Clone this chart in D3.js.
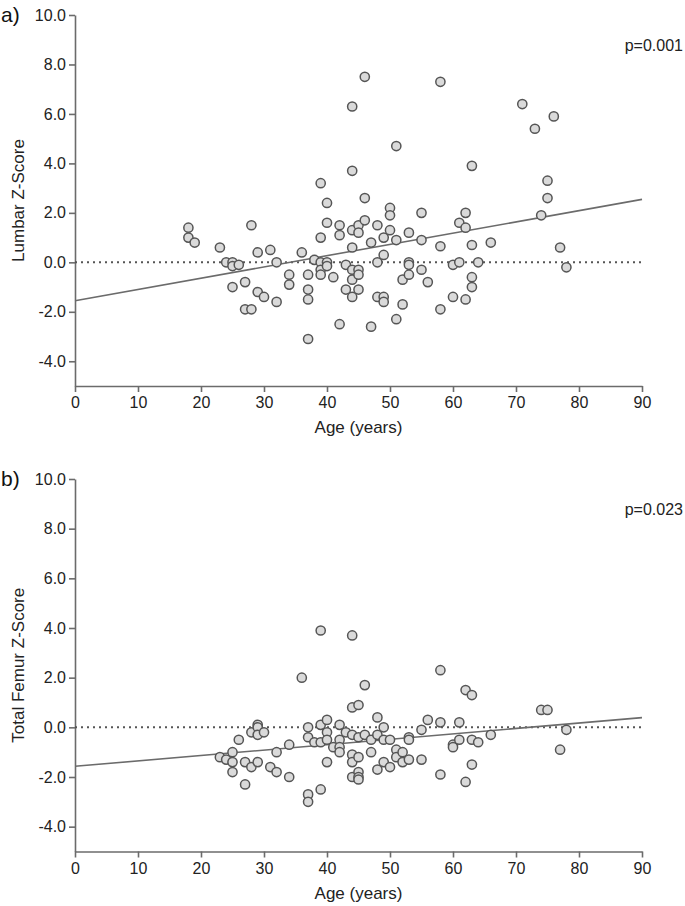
<!DOCTYPE html>
<html>
<head>
<meta charset="utf-8">
<script src="https://cdn.jsdelivr.net/npm/d3@7"></script>
<style>
  body { margin: 0; background: #fff; }
  svg { display: block; font-family: "Liberation Sans", Arial, sans-serif; }
  .axis path, .axis line { stroke: #6b6b6b; stroke-width: 1.6; }
  .axis text { fill: #222; font-size: 16px; }
</style>
</head>
<body>
<svg id="chart" width="685" height="906"></svg>
<script>
// panel a: lumbar z-score vs age
const ageLumbar = [18, 18, 19, 23, 24, 25, 25, 26, 25, 27, 27, 28, 28, 29, 29, 30, 31, 32, 32, 34,
  34, 36, 37, 37, 37, 37, 38, 39, 39, 39, 39, 39, 40, 40, 40, 40, 41, 42, 42, 42,
  43, 43, 44, 44, 44, 44, 44, 44, 44, 45, 45, 45, 45, 45, 46, 46, 46, 47, 47, 48,
  48, 48, 49, 49, 49, 49, 50, 50, 50, 51, 51, 51, 52, 52, 53, 53, 53, 53, 55, 55,
  55, 56, 58, 58, 58, 60, 60, 61, 61, 62, 62, 62, 63, 63, 63, 63, 64, 66, 71, 73,
  74, 75, 75, 76, 77, 78]
const zLumbar = [1.4, 1.0, 0.8, 0.6, 0.0, 0.0, -0.15, -0.1, -1.0, -0.8, -1.9, -1.9, 1.5, 0.4, -1.2, -1.4, 0.5, 0.0, -1.6, -0.5,
  -0.9, 0.4, -0.5, -1.1, -1.5, -3.1, 0.1, 3.2, 1.0, 0.0, -0.3, -0.5, 2.4, 1.6, 0.0, -0.15, -0.6, 1.5, 1.1, -2.5,
  -0.1, -1.1, 6.3, 3.7, 1.3, 0.6, -0.3, -0.7, -1.4, 1.5, 1.2, -0.3, -0.5, -1.1, 7.5, 2.6, 1.7, 0.8, -2.6, 1.5,
  0.0, -1.4, 1.0, 0.3, -1.4, -1.6, 2.2, 1.9, 1.3, 4.7, 0.9, -2.3, -0.7, -1.7, 1.2, 0.0, -0.1, -0.5, 2.0, 0.9,
  -0.3, -0.8, 7.3, 0.65, -1.9, -0.1, -1.4, 1.6, 0.0, 2.0, 1.4, -1.5, 3.9, 0.7, -0.6, -1.0, 0.0, 0.8, 6.4, 5.4,
  1.9, 3.3, 2.6, 5.9, 0.6, -0.2]

// panel b: total femur z-score vs age
const ageFemur = [23, 24, 25, 25, 25, 26, 27, 27, 28, 28, 29, 29, 29, 29, 30, 31, 32, 32, 34, 34,
  36, 37, 37, 37, 37, 38, 39, 39, 39, 39, 40, 40, 40, 40, 41, 42, 42, 42, 42, 43,
  44, 44, 44, 44, 44, 44, 45, 45, 45, 45, 45, 45, 46, 46, 47, 47, 48, 48, 48, 49,
  49, 49, 50, 50, 51, 51, 52, 52, 53, 53, 53, 55, 55, 56, 58, 58, 58, 60, 60, 61,
  61, 62, 62, 63, 63, 63, 64, 66, 74, 75, 77, 78]
const zFemur = [-1.2, -1.3, -1.0, -1.4, -1.8, -0.5, -1.4, -2.3, -0.2, -1.6, 0.1, 0.0, -0.3, -1.4, -0.2, -1.6, -1.0, -1.8, -0.7, -2.0,
  2.0, 0.0, -0.4, -2.7, -3.0, -0.6, 3.9, 0.1, -0.6, -2.5, 0.3, -0.2, -0.5, -1.4, -0.8, 0.1, -0.5, -0.8, -1.0, -0.2,
  3.7, 0.8, -0.3, -1.1, -1.4, -2.0, 0.9, -0.4, -1.2, -1.8, -2.0, -2.1, 1.7, -0.3, -0.5, -1.0, 0.4, -0.3, -1.7, 0.0,
  -0.5, -1.4, -0.5, -1.6, -0.9, -1.2, -1.0, -1.4, -0.4, -0.5, -1.3, -0.1, -1.3, 0.3, 2.3, 0.2, -1.9, -0.7, -0.8, 0.2,
  -0.5, 1.5, -2.2, 1.3, -0.5, -1.5, -0.6, -0.3, 0.7, 0.7, -0.9, -0.1]

// regression lines [intercept, slope]
const fitLumbar = [-1.55, 0.0455]
const fitFemur = [-1.57, 0.0218]

const xTicks = [0, 10, 20, 30, 40, 50, 60, 70, 80, 90]
const yTicks = [-4, -2, 0, 2, 4, 6, 8, 10]

const svg = d3.select('#chart')

// plain hyphen for negatives, like the original figure
const fmt = d => d.toFixed(1)

const drawPanel = function (opts) {
  const x = d3.scaleLinear().domain([0, 90]).range([75, 642])
  const y = d3.scaleLinear().domain([-5, 10]).range([opts.bottom, opts.top])
  const g = svg.append('g')

  g.append('g')
    .attr('class', 'axis')
    .attr('transform', `translate(0,${opts.bottom})`)
    .call(d3.axisBottom(x).tickValues(xTicks).tickSize(6).tickPadding(5).tickSizeOuter(0))

  g.append('g')
    .attr('class', 'axis')
    .attr('transform', 'translate(75,0)')
    .call(d3.axisLeft(y).tickValues(yTicks).tickFormat(fmt).tickSize(6).tickPadding(3).tickSizeOuter(0))

  g.selectAll('.axis .domain').attr('fill', 'none')

  // zero reference
  g.append('line')
    .attr('x1', x(0)).attr('x2', x(90))
    .attr('y1', y(0)).attr('y2', y(0))
    .attr('stroke', '#555')
    .attr('stroke-width', 2)
    .attr('stroke-dasharray', '2,4')

  // regression
  const fit = opts.fit
  g.append('line')
    .attr('x1', x(0)).attr('x2', x(90))
    .attr('y1', y(fit[0])).attr('y2', y(fit[0] + fit[1] * 90))
    .attr('stroke', '#6b6b6b')
    .attr('stroke-width', 1.6)

  g.selectAll('circle')
    .data(opts.ages.map((a, i) => [a, opts.vals[i]]))
    .enter()
    .append('circle')
    .attr('cx', d => x(d[0]))
    .attr('cy', d => y(d[1]))
    .attr('r', 4.6)
    .attr('fill', '#dadada')
    .attr('stroke', '#555')
    .attr('stroke-width', 1.5)

  g.append('text')
    .attr('x', 358.5).attr('y', opts.bottom + 47)
    .attr('text-anchor', 'middle')
    .attr('font-size', 17).attr('fill', '#222')
    .text('Age (years)')

  g.append('text')
    .attr('transform', `translate(24,${(opts.top + opts.bottom) / 2}) rotate(-90)`)
    .attr('text-anchor', 'middle')
    .attr('font-size', 17).attr('fill', '#222')
    .text(opts.yTitle)

  g.append('text')
    .attr('x', 683).attr('y', opts.top + 36)
    .attr('text-anchor', 'end')
    .attr('font-size', 16).attr('fill', '#222')
    .text(opts.p)

  g.append('text')
    .attr('x', 1).attr('y', opts.top + 7)
    .attr('font-size', 21).attr('fill', '#111')
    .text(opts.label)
}

drawPanel({ top: 15, bottom: 386, ages: ageLumbar, vals: zLumbar, fit: fitLumbar,
  yTitle: 'Lumbar Z-Score', p: 'p=0.001', label: 'a)' })
drawPanel({ top: 479, bottom: 851.5, ages: ageFemur, vals: zFemur, fit: fitFemur,
  yTitle: 'Total Femur Z-Score', p: 'p=0.023', label: 'b)' })
</script>
</body>
</html>
